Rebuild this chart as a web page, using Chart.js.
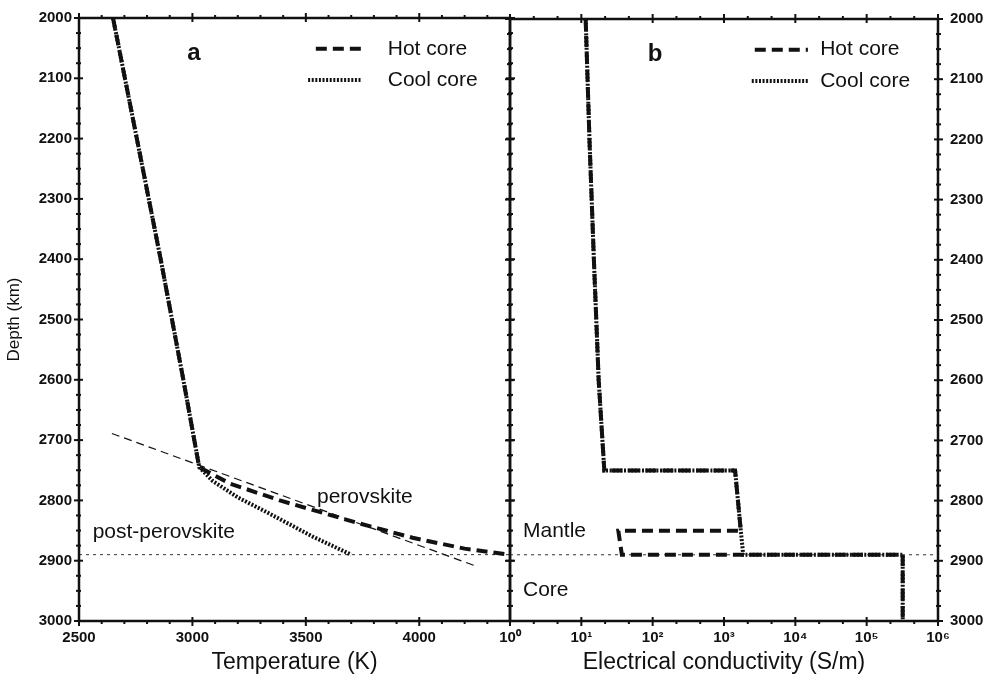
<!DOCTYPE html>
<html>
<head>
<meta charset="utf-8">
<script src="https://cdn.jsdelivr.net/npm/chart.js@4.4.0/dist/chart.umd.min.js"></script>
<style>
  body { margin: 0; background: #fff; }
  #wrap { position: relative; width: 994px; height: 676px; overflow: hidden; }
  canvas { position: absolute; }
  #ca { left: 0; top: 0; }
  #cb { left: 480px; top: -2px; }
</style>
</head>
<body>
<div id="wrap">
  <canvas id="ca" width="540" height="676"></canvas>
  <canvas id="cb" width="514" height="678"></canvas>
</div>
<script>
// panel a: temperature profiles (K) vs depth (km)
var hotDepth = [2000, 2200, 2400, 2600, 2745, 2772, 2800, 2837, 2862, 2880, 2890];
var hotTemp  = [2650, 2755, 2860, 2960, 3030, 3165, 3385, 3725, 3971, 4200, 4400];
var coolDepth = [2000, 2200, 2400, 2600, 2745, 2768, 2795, 2820, 2860, 2890];
var coolTemp  = [2650, 2755, 2860, 2960, 3030, 3090, 3200, 3330, 3530, 3700];
var phaseTemp  = [2645, 4250];
var phaseDepth = [2689, 2909];
var cmbDepth = 2890;

// panel b: electrical conductivity (S/m) vs depth (km)
var hotCondDepth = [2000, 2200, 2400, 2600, 2750, 2750, 2850, 2850, 2890, 2890, 3000];
var hotCond      = [11.5, 13, 15, 17.5, 21, 1430, 1720, 33, 37, 320000, 320000];
var coolCondDepth = [2000, 2200, 2400, 2600, 2750, 2750, 2850, 2890, 2890, 3000];
var coolCond      = [11.5, 13, 15, 17.5, 21, 1430, 1720, 1860, 320000, 320000];

var tempTicks = [2500, 3000, 3500, 4000];
var condTicks = [1, 10, 100, 1000, 10000, 100000, 1000000];
var seriesNames = ['Hot core', 'Cool core'];

var FONT = '"Liberation Sans", Arial, sans-serif';
var tickFont = { family: FONT, size: 15, weight: 'bold' };
var HOT_DASH = [11, 6];
var COOL_DASH = [2, 1.6];
var sup = ['⁰', '¹', '²', '³', '⁴', '⁵', '⁶'];

function pts(xs, ys) {
  return xs.map(function (v, i) { return { x: v, y: ys[i] }; });
}

function lineSet(data, width, dash, color) {
  return {
    data: data, showLine: true, pointRadius: 0, fill: false,
    borderColor: color || '#111', borderWidth: width, borderDash: dash,
    borderCapStyle: 'butt', tension: 0
  };
}

function tick(ctx, x1, y1, x2, y2) {
  ctx.beginPath(); ctx.moveTo(x1, y1); ctx.lineTo(x2, y2); ctx.stroke();
}

function plain(v) { return String(v); }

// frame, crossing major ticks and small minor ticks on all four sides
function frameTicks(xMinor, yMinor) {
  return {
    id: 'frameTicks',
    afterDatasetsDraw: function (chart) {
      var ctx = chart.ctx, a = chart.chartArea, x = chart.scales.x, y = chart.scales.y;
      ctx.save();
      ctx.strokeStyle = '#111';
      ctx.lineWidth = 2.5;
      ctx.strokeRect(a.left, a.top, a.right - a.left, a.bottom - a.top);
      ctx.lineWidth = 2;
      x.ticks.forEach(function (t) {
        var px = x.getPixelForValue(t.value);
        tick(ctx, px, a.top - 5, px, a.top + 4);
        tick(ctx, px, a.bottom - 4, px, a.bottom + 5);
      });
      y.ticks.forEach(function (t) {
        var py = y.getPixelForValue(t.value);
        tick(ctx, a.left - 5, py, a.left + 4, py);
        tick(ctx, a.right - 4, py, a.right + 5, py);
      });
      xMinor.forEach(function (v) {
        var px = x.getPixelForValue(v);
        tick(ctx, px, a.top - 3, px, a.top);
        tick(ctx, px, a.bottom, px, a.bottom + 3);
      });
      yMinor.forEach(function (v) {
        var py = y.getPixelForValue(v);
        tick(ctx, a.left - 3, py, a.left + 2, py);
        tick(ctx, a.right - 2, py, a.right + 3, py);
      });
      ctx.restore();
    }
  };
}

// panel letter, legend and text labels placed in data coordinates
function labels(cfg) {
  return {
    id: 'labels',
    afterDraw: function (chart) {
      var ctx = chart.ctx, x = chart.scales.x, y = chart.scales.y;
      ctx.save();
      ctx.fillStyle = '#111';
      ctx.textBaseline = 'middle';
      ctx.textAlign = 'center';
      ctx.font = 'bold 24px ' + FONT;
      ctx.fillText(cfg.letter[0], x.getPixelForValue(cfg.letter[1]), y.getPixelForValue(cfg.letter[2]));
      ctx.font = '21px ' + FONT;
      ctx.textAlign = 'left';
      var lg = cfg.legend;
      [HOT_DASH, COOL_DASH].forEach(function (dash, i) {
        var py = y.getPixelForValue(lg.depth[i]);
        ctx.save();
        ctx.strokeStyle = '#111';
        ctx.lineWidth = 4;
        ctx.setLineDash(dash);
        tick(ctx, x.getPixelForValue(lg.from[i]), py, x.getPixelForValue(lg.to), py);
        ctx.restore();
        ctx.fillText(seriesNames[i], x.getPixelForValue(lg.text), py);
      });
      cfg.texts.forEach(function (t) {
        ctx.textAlign = t[3];
        ctx.fillText(t[0], x.getPixelForValue(t[1]), y.getPixelForValue(t[2]));
      });
      ctx.restore();
    }
  };
}

var depthAxis = {
  type: 'linear', reverse: true, min: 2000, max: 3000,
  grid: { display: false, drawTicks: false }, border: { display: false },
  ticks: { stepSize: 100, font: tickFont, color: '#111', autoSkip: false, callback: plain }
};

var tempMinor = [], depthMinor = [], condMinor = [];
for (var t = 2600; t < 4400; t += 100) if (t % 500) tempMinor.push(t);
for (var d = 2025; d < 3000; d += 25) if (d % 100) depthMinor.push(d);
for (var k = 0; k < 6; k++) condMinor.push(Math.pow(10, k + 1 / 3), Math.pow(10, k + 2 / 3));

new Chart(document.getElementById('ca'), {
  type: 'scatter',
  data: {
    datasets: [
      lineSet(pts(coolTemp, coolDepth), 4, COOL_DASH),
      lineSet(pts(hotTemp, hotDepth), 4, HOT_DASH),
      lineSet(pts(phaseTemp, phaseDepth), 1.2, [8, 5]),
      lineSet(pts([2500, 4400], [cmbDepth, cmbDepth]), 1, [3, 4], '#333')
    ]
  },
  options: {
    responsive: false, animation: false,
    layout: { padding: { top: 18, right: 30, left: 0, bottom: 0 } },
    plugins: { legend: { display: false }, tooltip: { enabled: false } },
    scales: {
      x: {
        type: 'linear', min: 2500, max: 4400,
        afterBuildTicks: function (s) { s.ticks = tempTicks.map(function (v) { return { value: v }; }); },
        afterFit: function (s) { s.height = 55; },
        grid: { display: false, drawTicks: false }, border: { display: false },
        ticks: { font: tickFont, color: '#111', padding: 8, maxRotation: 0, autoSkip: false, callback: plain },
        title: { display: true, text: 'Temperature (K)', color: '#111', font: { family: FONT, size: 23 }, padding: 0 }
      },
      y: Object.assign({}, depthAxis, {
        position: 'left',
        afterFit: function (s) { s.width = 79; },
        ticks: Object.assign({}, depthAxis.ticks, { padding: 7 }),
        title: { display: true, text: 'Depth (km)', color: '#111', font: { family: FONT, size: 17 }, padding: { top: 4, bottom: 0 } }
      })
    }
  },
  plugins: [frameTicks(tempMinor, depthMinor), labels({
    letter: ['a', 3007, 2058],
    legend: { depth: [2051, 2103], from: [3544, 3510], to: 3747, text: 3861 },
    texts: [['perovskite', 3760, 2794, 'center'], ['post-perovskite', 2874, 2852, 'center']]
  })]
});

new Chart(document.getElementById('cb'), {
  type: 'scatter',
  data: {
    datasets: [
      lineSet(pts(coolCond, coolCondDepth), 4, COOL_DASH),
      lineSet(pts(hotCond, hotCondDepth), 4, HOT_DASH),
      lineSet(pts([1, 1000000], [cmbDepth, cmbDepth]), 1, [3, 4], '#333')
    ]
  },
  options: {
    responsive: false, animation: false,
    layout: { padding: { top: 20, right: 0, left: 30, bottom: 0 } },
    plugins: { legend: { display: false }, tooltip: { enabled: false } },
    scales: {
      x: {
        type: 'logarithmic', min: 1, max: 1000000,
        afterBuildTicks: function (s) { s.ticks = condTicks.map(function (v) { return { value: v }; }); },
        afterFit: function (s) { s.height = 55; },
        grid: { display: false, drawTicks: false }, border: { display: false },
        ticks: {
          font: tickFont, color: '#111', padding: 8, maxRotation: 0, autoSkip: false,
          callback: function (v) { return '10' + sup[Math.round(Math.log10(v))]; }
        },
        title: { display: true, text: 'Electrical conductivity (S/m)', color: '#111', font: { family: FONT, size: 23 }, padding: 0 }
      },
      y: Object.assign({}, depthAxis, {
        position: 'right',
        afterFit: function (s) { s.width = 56; },
        ticks: Object.assign({}, depthAxis.ticks, { padding: 12 })
      })
    }
  },
  plugins: [frameTicks(condMinor, depthMinor), labels({
    letter: ['b', 108, 2058],
    legend: { depth: [2051, 2103], from: [2700, 2450], to: 15000, text: 22300 },
    texts: [['Mantle', 1.52, 2851, 'left'], ['Core', 1.52, 2949, 'left']]
  })]
});
</script>
</body>
</html>
